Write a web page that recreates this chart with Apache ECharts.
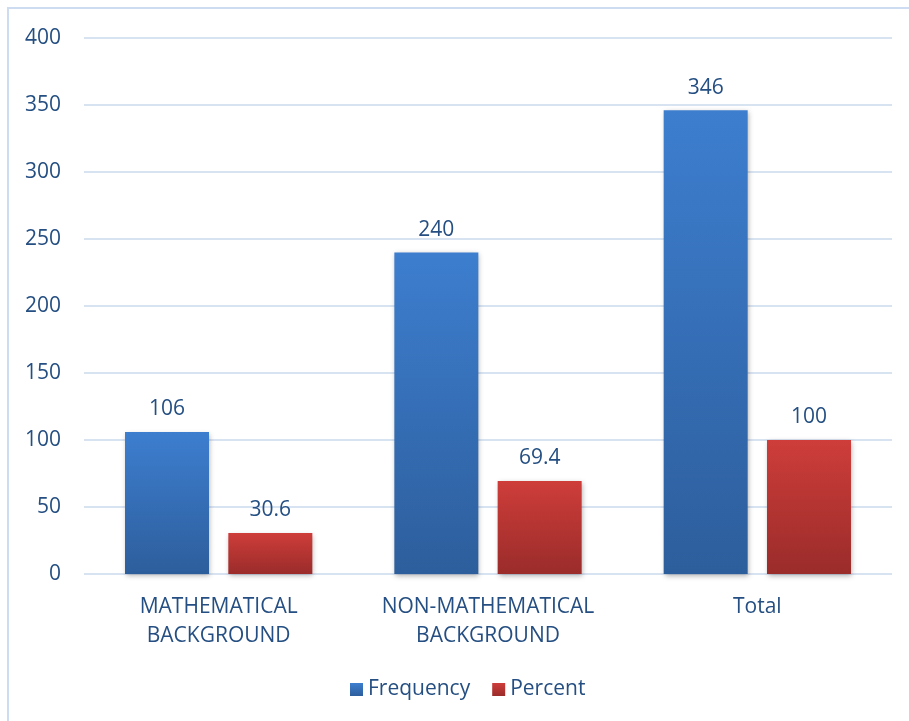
<!DOCTYPE html>
<html>
<head>
<meta charset="utf-8">
<script src="https://cdn.jsdelivr.net/npm/echarts@6/dist/echarts.min.js"></script>
<style>
  html, body { margin: 0; padding: 0; background: #fff; }
  #main { width: 909px; height: 721px; }
</style>
</head>
<body>
<div id="main"></div>
<script>
// categories and values
var categories = ["MATHEMATICAL\nBACKGROUND", "NON-MATHEMATICAL\nBACKGROUND", "Total"];
var frequency = [106, 240, 346];
var percent = [30.6, 69.4, 100];
var yTicks = [0, 50, 100, 150, 200, 250, 300, 350, 400];

var textColor = "#254f82";
var fontName = "'Open Sans', 'Liberation Sans', sans-serif";
var fs = 21;

function grad(top, bottom) {
    return new echarts.graphic.LinearGradient(0, 0, 0, 1, [
        { offset: 0, color: top },
        { offset: 1, color: bottom }
    ]);
}

var chart = echarts.init(document.getElementById("main"));
var option = {
    backgroundColor: "#fff",
    animation: false,
    textStyle: { fontFamily: fontName, color: textColor },
    graphic: [
        {
            type: "rect",
            shape: { x: 8, y: 8, width: 960, height: 760 },
            style: { fill: "none", stroke: "#cddcf0", lineWidth: 2 },
            silent: true
        }
    ],
    grid: { left: 84, right: 17, top: 38, bottom: 147 },
    legend: {
        bottom: 16,
        left: 345,
        itemWidth: 13,
        itemHeight: 13,
        itemGap: 22,
        icon: "rect",
        textStyle: { color: textColor, fontSize: fs, fontFamily: fontName },
        data: ["Frequency", "Percent"]
    },
    xAxis: {
        type: "category",
        data: categories,
        axisLine: { show: false },
        axisTick: { show: false },
        axisLabel: {
            color: textColor,
            fontSize: fs,
            lineHeight: 29,
            margin: 19,
            interval: 0,
            fontFamily: fontName
        }
    },
    yAxis: {
        type: "value",
        min: yTicks[0],
        max: yTicks[yTicks.length - 1],
        interval: 50,
        axisLine: { show: false },
        axisTick: { show: false },
        axisLabel: { color: textColor, fontSize: fs, margin: 23, fontFamily: fontName },
        splitLine: { lineStyle: { color: "#d8e3f2", width: 2 } }
    },
    series: [
        {
            name: "Frequency",
            type: "bar",
            barWidth: 84,
            barGap: "23%",
            data: frequency,
            itemStyle: {
                color: grad("#3d7ecf", "#2d5e9c"),
                shadowBlur: 5,
                shadowColor: "rgba(0,0,0,0.3)",
                shadowOffsetX: 1,
                shadowOffsetY: 2
            },
            label: {
                show: true,
                position: "top",
                distance: 12,
                color: textColor,
                fontSize: fs,
                fontFamily: fontName
            }
        },
        {
            name: "Percent",
            type: "bar",
            barWidth: 84,
            data: percent,
            itemStyle: {
                color: grad("#ce3d3a", "#9a2c2a"),
                shadowBlur: 5,
                shadowColor: "rgba(0,0,0,0.3)",
                shadowOffsetX: 1,
                shadowOffsetY: 2
            },
            label: {
                show: true,
                position: "top",
                distance: 12,
                color: textColor,
                fontSize: fs,
                fontFamily: fontName
            }
        }
    ]
};
chart.setOption(option);
</script>
</body>
</html>
